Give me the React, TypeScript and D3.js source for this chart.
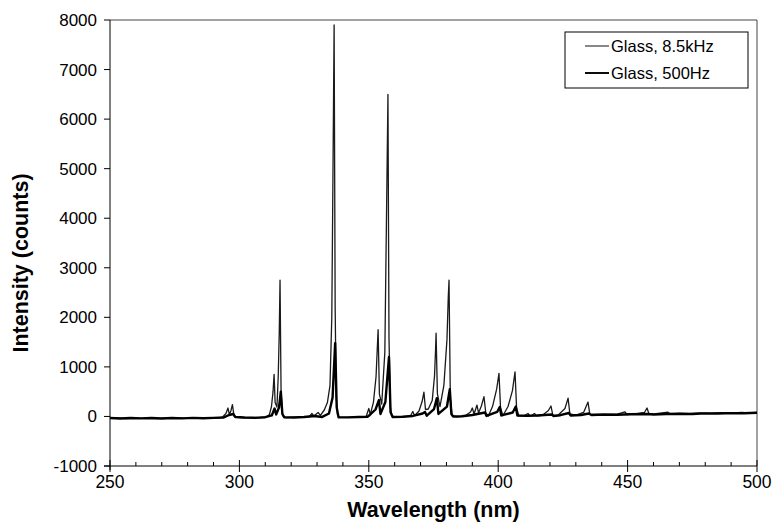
import * as d3 from "d3";
import React from "react";

// wavelength (nm), intensity (counts)
const glass85kHz: [number, number][] = [
  [250, -40], [253, -30], [256, -45], [259, -35], [262, -40], [265, -28], [268, -42], [271, -33],
  [274, -40], [277, -30], [280, -38], [283, -30], [286, -36], [289, -25], [292, -30], [293.5, -10],
  [294.8, 60], [295.6, 170], [296.1, 40], [296.7, 110], [297.3, 240], [297.9, 20], [299, -20],
  [302, -28], [305, -18], [308, -25], [310.5, -10], [311.6, 40], [312.4, 200], [313.0, 500],
  [313.4, 850], [313.8, 280], [314.5, 190], [315.0, 800], [315.4, 1700], [315.7, 2750], [316.1, 500], [316.7, 20],
  [318, -25], [321, -15], [324, -20], [327, -5], [328, 60], [328.8, 10], [330.4, 80], [331.3, 20],
  [332.8, 130], [334, 280], [335, 620], [335.7, 2000], [336.2, 5200], [336.6, 7900], [337.0, 2200], [337.4, 400], [337.9, 40],
  [338.5, -15], [341, -20], [344, -12], [347, -18], [349, 0], [350, 160], [350.6, 40], [351.8, 290],
  [352.8, 800], [353.3, 1400], [353.6, 1750], [354.1, 450], [355, 250], [356.2, 1300], [356.9, 4300], [357.4, 6500], [357.8, 1600],
  [358.3, 200], [358.8, 20], [360, -15], [363, -8], [366, 5], [367, 100], [367.7, 15], [369.4, 110], [370.6, 300],
  [371.3, 490], [371.9, 140], [373, 150], [374.5, 320], [375.4, 820], [375.8, 1350], [376, 1680], [376.5, 460],
  [377.5, 200], [379, 620], [380.2, 1550], [380.7, 2400], [381, 2750], [381.5, 380], [382.2, 15], [384, -10],
  [387, 5], [389.3, 90], [390, 170], [390.7, 50], [391.8, 230], [392.4, 70], [393.5, 210],
  [394.5, 400], [395.2, 70], [396.2, 10], [397.8, 200], [399.4, 550], [400.3, 870], [400.9, 180],
  [401.8, 15], [403.8, 200], [405.5, 520], [406.5, 900], [407.1, 170], [408, 10], [410, 15],
  [411.5, 60], [412.4, 5], [414, 60], [415, 10], [417, 20], [419.4, 120], [420.4, 210], [421.1, 25],
  [423, 20], [425.8, 160], [427, 370], [427.7, 50], [430, 25], [433, 80], [434.7, 290], [435.4, 45],
  [438, 40], [442, 35], [446, 45], [449, 90], [449.8, 35], [453, 50], [456.5, 80], [457.5, 170],
  [458.3, 45], [461, 55], [465.6, 85], [466.5, 50], [470, 60], [474, 55], [478, 70], [482, 60],
  [486, 75], [490, 65], [494, 80], [497, 70], [500, 80],
];

const glass500Hz: [number, number][] = [
  [250, -30], [254, -42], [258, -32], [262, -38], [266, -30], [270, -40], [274, -32], [278, -38],
  [282, -28], [286, -36], [290, -28], [294, -20], [296, 30], [297.6, 50], [298.4, -10], [302, -22],
  [306, -28], [310, -15], [312.5, 20], [313.6, 160], [314.2, 40], [315.3, 180], [316.0, 500],
  [316.6, 50], [317.3, -15], [321, -22], [325, -12], [329, 10], [332, -10], [334.6, 60], [336, 380],
  [337.0, 1480], [337.6, 180], [338.3, -15], [342, -18], [346, -10], [349.5, -5], [350.4, 30],
  [352.6, 140], [353.9, 330], [354.5, 50], [356.4, 290], [357.8, 1200], [358.4, 90], [359.2, -12],
  [363, -5], [367, 10], [370.8, 60], [371.7, 90], [372.4, 15], [375.2, 150], [376.3, 370],
  [376.9, 50], [380.2, 200], [381.3, 550], [381.9, 50], [382.6, 0], [386, 5], [390, 30],
  [394.9, 80], [395.5, 10], [399.6, 90], [400.6, 190], [401.2, 20], [405.6, 80], [406.8, 200],
  [407.4, 20], [411, 15], [415, 20], [420.7, 40], [421.3, 10], [424, 25], [427.3, 70], [428, 20],
  [432, 30], [435, 60], [436, 30], [441, 40], [446, 35], [451, 45], [457.8, 50], [460, 40],
  [465, 50], [470, 55], [475, 50], [480, 62], [485, 58], [490, 68], [495, 65], [500, 75],
];

const xTicks = [250, 300, 350, 400, 450, 500];
const yTicks = [-1000, 0, 1000, 2000, 3000, 4000, 5000, 6000, 7000, 8000];
const seriesNames = ["Glass, 8.5kHz", "Glass, 500Hz"];

const W = 777;
const H = 526;
const margin = { top: 20, right: 20, bottom: 60, left: 110 };

export default function App() {
  const x = d3.scaleLinear().domain([250, 500]).range([margin.left, W - margin.right]);
  const y = d3.scaleLinear().domain([-1000, 8000]).range([H - margin.bottom, margin.top]);
  const line = d3
    .line<[number, number]>()
    .x((d) => x(d[0]))
    .y((d) => y(d[1]));

  const minorTicks = d3.range(250, 501, 10).filter((t) => t % 50 !== 0);
  const font = "'Liberation Sans', Arial, sans-serif";
  const x0 = x(250);
  const x1 = x(500);
  const yTop = y(8000);
  const yBot = y(-1000);
  const styles = [
    { stroke: "#1a1a1a", width: 1.3 },
    { stroke: "#000", width: 2.4 },
  ];

  return (
    <svg width={W} height={H} style={{ position: "absolute", left: 0, top: 0 }} fontFamily={font}>
      <rect width={W} height={H} fill="#fff" />
      {/* frame */}
      <line x1={x0} x2={x1} y1={yTop} y2={yTop} stroke="#444" strokeWidth={1} />
      <line x1={x1} x2={x1} y1={yTop} y2={yBot} stroke="#444" strokeWidth={1} />

      {/* series */}
      <path d={line(glass85kHz) || ""} fill="none" stroke={styles[0].stroke} strokeWidth={styles[0].width} strokeLinejoin="round" />
      <path d={line(glass500Hz) || ""} fill="none" stroke={styles[1].stroke} strokeWidth={styles[1].width} strokeLinejoin="round" />

      {/* y axis */}
      <line x1={x0} x2={x0} y1={yTop} y2={yBot + 4} stroke="#000" />
      {yTicks.map((t) => (
        <g key={t}>
          <line x1={x0 - 6} x2={x0} y1={y(t)} y2={y(t)} stroke="#000" />
          <text x={x0 - 13} y={y(t)} dy="0.35em" textAnchor="end" fontSize={17}>
            {t}
          </text>
        </g>
      ))}
      <text
        transform={`translate(28,${(yTop + yBot) / 2 + 20}) rotate(-90)`}
        textAnchor="middle"
        fontSize={21.5}
        fontWeight="bold"
      >
        Intensity (counts)
      </text>

      {/* x axis */}
      <line x1={x0 - 6} x2={x1} y1={yBot} y2={yBot} stroke="#000" />
      {xTicks.map((t) => (
        <g key={t}>
          <line x1={x(t)} x2={x(t)} y1={yBot - 6} y2={yBot + 6} stroke="#000" />
          <text x={x(t)} y={yBot + 22} textAnchor="middle" fontSize={17.5}>
            {t}
          </text>
        </g>
      ))}
      {minorTicks.map((t) => (
        <line key={t} x1={x(t)} x2={x(t)} y1={yBot - 4} y2={yBot} stroke="#000" />
      ))}
      <text x={(x0 + x1) / 2} y={H - 9} textAnchor="middle" fontSize={21.5} fontWeight="bold">
        Wavelength (nm)
      </text>

      {/* legend */}
      <rect x={565} y={32} width={183} height={56} fill="#fff" stroke="#000" strokeWidth={1} />
      {seriesNames.map((name, i) => (
        <g key={name} transform={`translate(585,${46 + i * 27})`}>
          <line x1={0} x2={24} y1={0} y2={0} stroke={styles[i].stroke} strokeWidth={styles[i].width * 0.8} />
          <text x={26} y={0} dy="0.35em" fontSize={16.5}>
            {name}
          </text>
        </g>
      ))}
    </svg>
  );
}
